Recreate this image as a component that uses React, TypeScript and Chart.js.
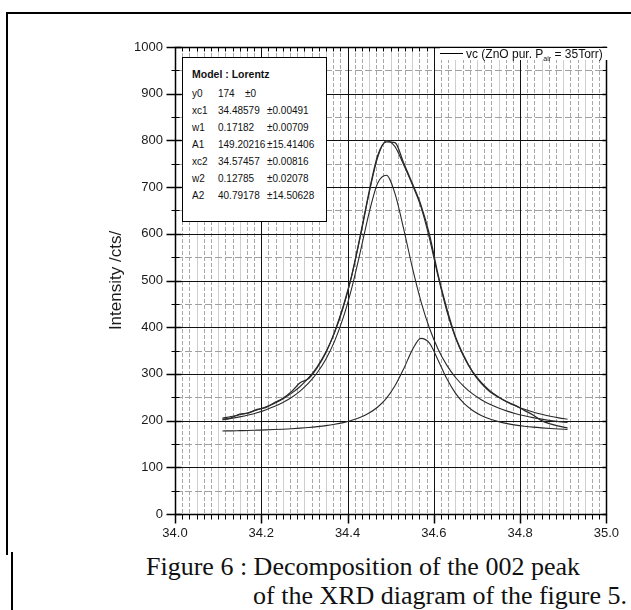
import React, { useEffect, useRef } from 'react';
import { Chart, registerables } from 'chart.js';

Chart.register(...registerables);

// 2θ positions (degrees)
const xValues = [
  34.11, 34.13, 34.15, 34.17, 34.19, 34.21, 34.23, 34.25, 34.27, 34.29,
  34.31, 34.33, 34.35, 34.37, 34.39, 34.41, 34.43, 34.45, 34.47, 34.49,
  34.51, 34.53, 34.55, 34.57, 34.59, 34.61, 34.63, 34.65, 34.67, 34.69,
  34.71, 34.73, 34.75, 34.77, 34.79, 34.81, 34.83, 34.85, 34.87, 34.89, 34.91,
];

// measured intensity, vc (ZnO pur.)
const measured = [
  203, 206, 214, 216, 224, 228, 238, 248, 262, 281,
  290, 314, 346, 390, 445, 512, 598, 690, 768, 797,
  795, 752, 708, 662, 598, 512, 440, 380, 338, 304,
  280, 262, 250, 240, 232, 222, 212, 200, 193, 188, 184,
];

// cumulative Lorentz fit
const fitTotal = [
  205.2, 208.6, 212.5, 217.0, 222.5, 229.0, 236.8, 246.4, 258.2, 273.0,
  291.8, 315.9, 347.2, 388.3, 442.2, 511.5, 596.0, 687.3, 763.9, 799.3,
  786.7, 747.7, 705.6, 658.1, 589.7, 508.3, 434.8, 377.7, 335.7, 304.8,
  281.8, 264.3, 250.7, 239.9, 231.3, 224.2, 218.4, 213.5, 209.4, 205.9, 202.9,
];

// first Lorentz component (xc1 = 34.48579)
const peak1 = [
  201.5, 204.5, 208.0, 212.1, 217.0, 222.9, 230.0, 238.8, 249.6, 263.2,
  280.6, 302.9, 332.0, 370.2, 420.4, 484.9, 562.8, 645.0, 708.7, 725.5,
  686.2, 611.1, 528.7, 456.0, 397.7, 352.9, 318.8, 292.8, 272.8, 257.1,
  244.8, 234.9, 226.9, 220.3, 214.8, 210.3, 206.4, 203.1, 200.3, 197.9, 195.8,
];

// second Lorentz component (xc2 = 34.57457)
const peak2 = [
  177.8, 178.1, 178.5, 178.9, 179.5, 180.1, 180.8, 181.6, 182.6, 183.8,
  185.2, 187.0, 189.2, 192.1, 195.7, 200.6, 207.2, 216.3, 229.2, 247.8,
  274.5, 310.6, 350.9, 376.1, 366.0, 329.4, 290.0, 258.9, 236.9, 221.7,
  211.0, 203.4, 197.8, 193.6, 190.4, 188.0, 186.0, 184.4, 183.1, 182.0, 181.1,
];

const xTicks = [34.0, 34.2, 34.4, 34.6, 34.8, 35.0];
const yTicks = [0, 100, 200, 300, 400, 500, 600, 700, 800, 900, 1000];
const xMinorPerMajor = 12;
const yMinorStep = 50;

const paramLabels = ['y0', 'xc1', 'w1', 'A1', 'xc2', 'w2', 'A2'];
const paramValues = ['174', '34.48579', '0.17182', '149.20216', '34.57457', '0.12785', '40.79178'];
const paramErrors = ['\u00b10', '\u00b10.00491', '\u00b10.00709', '\u00b115.41406', '\u00b10.00816', '\u00b10.02078', '\u00b114.50628'];

const toPoints = (ys: number[]) => xValues.map((x, i) => ({ x, y: ys[i] }));

const gridPlugin = {
  id: 'originGrid',
  beforeDatasetsDraw(chart: any) {
    const { ctx, chartArea: a, scales } = chart;
    const x = scales.x;
    const y = scales.y;
    ctx.save();
    ctx.lineWidth = 1;
    const xMin = xTicks[0];
    const xMaj = xTicks[1] - xTicks[0];
    const nMinor = Math.round((xTicks[xTicks.length - 1] - xMin) / xMaj) * xMinorPerMajor;
    for (let i = 1; i < nMinor; i++) {
      if (i % xMinorPerMajor === 0) continue;
      const v = xMin + (i * xMaj) / xMinorPerMajor;
      const px = Math.round(x.getPixelForValue(v)) + 0.5;
      const solid = i % 3 === 0;
      ctx.strokeStyle = solid ? '#cfcfcf' : '#a8a8a8';
      ctx.setLineDash(solid ? [] : [4, 2]);
      ctx.beginPath();
      ctx.moveTo(px, a.top);
      ctx.lineTo(px, a.bottom);
      ctx.stroke();
    }
    for (let v = yMinorStep; v < 1000; v += 2 * yMinorStep) {
      const py = Math.round(y.getPixelForValue(v)) + 0.5;
      ctx.strokeStyle = '#a0a0a0';
      ctx.setLineDash([7, 3]);
      ctx.beginPath();
      ctx.moveTo(a.left, py);
      ctx.lineTo(a.right, py);
      ctx.stroke();
    }
    ctx.setLineDash([]);
    ctx.strokeStyle = '#111';
    for (const v of xTicks.slice(1, -1)) {
      const px = Math.round(x.getPixelForValue(v)) + 0.5;
      ctx.beginPath();
      ctx.moveTo(px, a.top);
      ctx.lineTo(px, a.bottom);
      ctx.stroke();
    }
    for (const v of yTicks.slice(1, -1)) {
      const py = Math.round(y.getPixelForValue(v)) + 0.5;
      ctx.beginPath();
      ctx.moveTo(a.left, py);
      ctx.lineTo(a.right, py);
      ctx.stroke();
    }
    ctx.restore();
  },
  afterDatasetsDraw(chart: any) {
    const { ctx, chartArea: a, scales } = chart;
    const x = scales.x;
    const y = scales.y;
    ctx.save();
    ctx.strokeStyle = '#000';
    ctx.lineWidth = 1.5;
    const L = Math.round(a.left) + 0.5;
    const R = Math.round(a.right) + 0.5;
    const T = Math.round(a.top) + 0.5;
    const B = Math.round(a.bottom) + 0.5;
    ctx.strokeRect(L, T, R - L, B - T);
    ctx.lineWidth = 1;
    const xMin = xTicks[0];
    const xMaj = xTicks[1] - xTicks[0];
    const nMinor = Math.round((xTicks[xTicks.length - 1] - xMin) / xMaj) * xMinorPerMajor;
    for (let i = 0; i <= nMinor; i++) {
      const v = xMin + (i * xMaj) / xMinorPerMajor;
      const px = Math.round(x.getPixelForValue(v)) + 0.5;
      const major = i % xMinorPerMajor === 0;
      ctx.lineWidth = major ? 1.5 : 1;
      ctx.beginPath();
      ctx.moveTo(px, B);
      ctx.lineTo(px, B + (major ? 9 : 5));
      ctx.stroke();
      if (!major) {
        ctx.beginPath();
        ctx.moveTo(px, T);
        ctx.lineTo(px, T + 4);
        ctx.stroke();
      }
    }
    for (let v = 0; v <= 1000; v += yMinorStep) {
      const py = Math.round(y.getPixelForValue(v)) + 0.5;
      const major = v % 100 === 0;
      ctx.lineWidth = major ? 1.5 : 1;
      ctx.beginPath();
      ctx.moveTo(L - (major ? 9 : 4), py);
      ctx.lineTo(L + (major ? 6 : 4), py);
      ctx.stroke();
      ctx.beginPath();
      ctx.moveTo(R - 4, py);
      ctx.lineTo(R, py);
      ctx.stroke();
    }
    ctx.restore();
  },
};

export default function App() {
  const canvasRef = useRef<HTMLCanvasElement | null>(null);

  useEffect(() => {
    if (!canvasRef.current) return;
    const lineStyle = {
      borderColor: '#2a2a2a',
      borderWidth: 1.1,
      pointRadius: 0,
      fill: false,
      cubicInterpolationMode: 'monotone' as const,
    };
    const chart = new Chart(canvasRef.current, {
      type: 'line',
      data: {
        datasets: [
          { label: 'vc (ZnO pur. Pair = 35Torr)', data: toPoints(measured), ...lineStyle, borderWidth: 1.3 },
          { label: 'Fit', data: toPoints(fitTotal), ...lineStyle },
          { label: 'Peak 1', data: toPoints(peak1), ...lineStyle },
          { label: 'Peak 2', data: toPoints(peak2), ...lineStyle },
        ],
      },
      options: {
        animation: false,
        responsive: false,
        maintainAspectRatio: false,
        devicePixelRatio: 1,
        layout: { padding: { top: 47, right: 17, left: 0, bottom: 0 } },
        plugins: { legend: { display: false }, tooltip: { enabled: false } },
        scales: {
          x: {
            type: 'linear',
            min: 34,
            max: 35,
            grid: { display: false, drawTicks: false },
            border: { display: false },
            afterBuildTicks: (s: any) => {
              s.ticks = xTicks.map((v) => ({ value: v }));
            },
            afterFit: (s: any) => {
              s.height = 31;
            },
            ticks: {
              autoSkip: false,
              maxRotation: 0,
              padding: 12,
              color: '#1a1a1a',
              font: { family: 'Liberation Sans', size: 13 },
              callback: (v: any) => Number(v).toFixed(1),
            },
          },
          y: {
            min: 0,
            max: 1000,
            grid: { display: false, drawTicks: false },
            border: { display: false },
            afterBuildTicks: (s: any) => {
              s.ticks = yTicks.map((v) => ({ value: v }));
            },
            afterFit: (s: any) => {
              s.width = 175;
            },
            title: {
              display: true,
              text: 'Intensity /cts/',
              color: '#1a1a1a',
              font: { family: 'Liberation Sans', size: 17 },
              padding: { top: 106, bottom: 0 },
            },
            ticks: {
              autoSkip: false,
              padding: 12,
              color: '#1a1a1a',
              font: { family: 'Liberation Sans', size: 13 },
              callback: (v: any) => String(v),
            },
          },
        },
      },
      plugins: [gridPlugin],
    });
    return () => chart.destroy();
  }, []);

  const rowTops = [36, 53, 70, 87, 104, 121, 138];
  const captionStyle: React.CSSProperties = {
    position: 'absolute',
    fontFamily: 'Liberation Serif, Times New Roman, serif',
    fontSize: 26,
    lineHeight: '29px',
    color: '#111',
    whiteSpace: 'nowrap',
  };

  return (
    <div style={{ position: 'absolute', left: 0, top: 0, width: 631, height: 610, background: '#fff', overflow: 'hidden' }}>
      <div style={{ position: 'absolute', left: 6, top: 12, width: 625, height: 2, background: '#000' }} />
      <div style={{ position: 'absolute', left: 6, top: 12, width: 2, height: 543, background: '#000' }} />
      <div style={{ position: 'absolute', left: 11, top: 552, width: 2, height: 58, background: '#000' }} />
      <canvas ref={canvasRef} width={631} height={545} style={{ position: 'absolute', left: 0, top: 0, width: 631, height: 545 }} />

      <div
        style={{
          position: 'absolute', left: 182, top: 57, width: 145, height: 165,
          border: '1px solid #000', background: '#fff', boxSizing: 'border-box',
          fontFamily: 'Liberation Sans, Arial, sans-serif', color: '#111',
        }}
      >
        <div style={{ position: 'absolute', left: 9, top: 10, fontSize: 10.5, fontWeight: 'bold', lineHeight: '12px', whiteSpace: 'nowrap' }}>
          Model : Lorentz
        </div>
        {paramLabels.map((lab, i) => (
          <div key={lab} style={{ position: 'absolute', left: 0, top: rowTops[i] - 6, fontSize: 10, lineHeight: '12px', whiteSpace: 'nowrap', width: 145 }}>
            <span style={{ position: 'absolute', left: 9 }}>{lab}</span>
            <span style={{ position: 'absolute', left: 35 }}>{paramValues[i]}</span>
            <span style={{ position: 'absolute', left: i === 0 ? 62 : 84 }}>{paramErrors[i]}</span>
          </div>
        ))}
      </div>

      <div
        style={{
          position: 'absolute', left: 440, top: 48, width: 173, height: 12, background: '#fff',
          fontFamily: 'Liberation Sans, Arial, sans-serif', fontSize: 12, color: '#111',
          lineHeight: '12px', whiteSpace: 'nowrap',
        }}
      >
        <div style={{ position: 'absolute', left: 0, top: 5, width: 23, height: 1, background: '#000' }} />
        <span style={{ position: 'absolute', left: 26, top: 0 }}>
          vc (ZnO pur. P<sub style={{ fontSize: 7, lineHeight: 0, verticalAlign: -3 }}>air</sub> = 35Torr)
        </span>
      </div>

      <div style={{ ...captionStyle, left: 146, top: 552 }}>
        Figure 6 : Decomposition of the 002 peak
      </div>
      <div style={{ ...captionStyle, left: 253, top: 581 }}>
        of the XRD diagram of the figure 5.
      </div>
    </div>
  );
}
